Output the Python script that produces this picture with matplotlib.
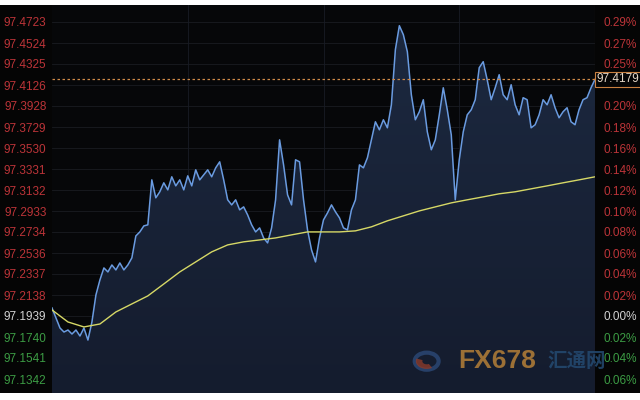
import numpy as np
import matplotlib.pyplot as plt
import matplotlib.transforms as mtransforms
from matplotlib.patches import Rectangle, Circle, Wedge

# price series (every sample of the intraday line)
price = [97.2015, 97.1920, 97.1825, 97.1787, 97.1806, 97.1768, 97.1806, 97.1749, 97.1825, 97.1711,
         97.1882, 97.2138, 97.2280, 97.2394, 97.2356, 97.2422, 97.2375, 97.2441, 97.2375, 97.2422,
         97.2489, 97.2697, 97.2735, 97.2792, 97.2802, 97.3228, 97.3058, 97.3115, 97.3200, 97.3133,
         97.3257, 97.3171, 97.3228, 97.3133, 97.3266, 97.3171, 97.3323, 97.3228, 97.3276, 97.3323,
         97.3257, 97.3342, 97.3399, 97.3228, 97.3039, 97.2991, 97.3039, 97.2944, 97.2972, 97.2896,
         97.2802, 97.2735, 97.2773, 97.2678, 97.2631, 97.2773, 97.3039, 97.3607, 97.3370, 97.3086,
         97.2991, 97.3418, 97.3399, 97.3039, 97.2754, 97.2565, 97.2451, 97.2678, 97.2849, 97.2915,
         97.2991, 97.2925, 97.2868, 97.2773, 97.2754, 97.2944, 97.3039, 97.3370, 97.3342, 97.3437,
         97.3607, 97.3778, 97.3702, 97.3797, 97.3721, 97.3939, 97.4461, 97.4688, 97.4603, 97.4442,
         97.4034, 97.3797, 97.3873, 97.3987, 97.3683, 97.3513, 97.3607, 97.3844, 97.4100, 97.3892,
         97.3655, 97.3039, 97.3418, 97.3683, 97.3844, 97.3892, 97.3987, 97.4290, 97.4347, 97.4176,
         97.3987, 97.4100, 97.4224, 97.4034, 97.3987, 97.4129, 97.3939, 97.3844, 97.4006, 97.3987,
         97.3721, 97.3750, 97.3844, 97.3987, 97.3939, 97.4034, 97.3911, 97.3816, 97.3873, 97.3911,
         97.3778, 97.3750, 97.3892, 97.3987, 97.4006, 97.4100, 97.4179]

# average line, one value every 4 samples
avg = [97.1996, 97.1882, 97.1835, 97.1863, 97.1977, 97.2053, 97.2129, 97.2242, 97.2356, 97.2451,
       97.2546, 97.2612, 97.2641, 97.2659, 97.2678, 97.2707, 97.2735, 97.2735, 97.2735, 97.2745,
       97.2783, 97.2840, 97.2887, 97.2934, 97.2972, 97.3010, 97.3039, 97.3067, 97.3096, 97.3115,
       97.3143, 97.3171, 97.3200, 97.3228, 97.3257]

last_price = 97.4179
base_price = 97.1939

left_labels = ['97.4723', '97.4524', '97.4325', '97.4126', '97.3928', '97.3729', '97.3530',
               '97.3331', '97.3132', '97.2933', '97.2734', '97.2536', '97.2337', '97.2138',
               '97.1939', '97.1740', '97.1541', '97.1342']
right_labels = ['0.29%', '0.27%', '0.25%', '', '0.20%', '0.18%', '0.16%', '0.14%', '0.12%',
                '0.10%', '0.08%', '0.06%', '0.04%', '0.02%', '0.00%', '0.02%', '0.04%', '0.06%']

RED = '#bc3438'
GREEN = '#3c9c44'
WHITE = '#d2d2d2'

tick_top, tick_bot = 97.4723, 97.1342
step = (tick_top - tick_bot) / 17
ticks = tick_top - step * np.arange(18)
px = step / 21  # price per pixel
ymin = tick_bot - 14 * px
ymax = tick_top + 17 * px

x = np.arange(len(price))
xa = np.arange(0, len(price), 4)

plt.rcParams['font.family'] = ['Liberation Sans', 'DejaVu Sans']

fig = plt.figure(figsize=(6.4, 4.0), dpi=100, facecolor='white')
fig.patches.append(Rectangle((0, 7 / 400), 1, 388 / 400, transform=fig.transFigure,
                             facecolor='#050505', edgecolor='none', zorder=-10))
ax = fig.add_axes([52 / 640, 7 / 400, 543 / 640, 388 / 400])
ax.set_facecolor('#060709')
ax.set_xlim(0, len(price) - 1)
ax.set_ylim(ymin, ymax)

# grid
for t in ticks:
    ax.axhline(t, color='#1a1c21', lw=0.6, zorder=1)
for f in [0.25, 0.5, 0.75]:
    ax.axvline((len(price) - 1) * f, color='#181c25', lw=0.6, zorder=1)

# gradient fill under the price line
poly = ax.fill_between(x, price, ymin, color='none', lw=0)
grad = np.linspace(0, 1, 256).reshape(-1, 1)
c_top = np.array([0.11, 0.16, 0.25])
c_bot = np.array([0.08, 0.11, 0.18])
img = c_top[None, None, :] * (1 - grad[:, :, None]) + c_bot[None, None, :] * grad[:, :, None]
im = ax.imshow(img, extent=[0, len(price) - 1, ymin, max(price)], aspect='auto',
               origin='upper', zorder=2)
im.set_clip_path(poly.get_paths()[0], transform=ax.transData)

ax.plot(x, price, color='#6a9be0', lw=1.1, zorder=4)
ax.plot(xa, avg, color='#d6d866', lw=1.0, zorder=5)
ax.axhline(last_price, color='#d08a48', lw=0.9, ls=(0, (2, 2)), zorder=6)

# watermark
ax.add_patch(Circle((0.69, 0.082), 0.022, transform=ax.transAxes, fill=False,
                    ec='#2c4a78', lw=3, zorder=3, alpha=0.8))
ax.add_patch(Wedge((0.69, 0.082), 0.02, 160, 300, width=0.012, transform=ax.transAxes,
                   fc='#8a3a2a', ec='none', zorder=3, alpha=0.8))
ax.text(0.749, 0.082, 'FX678', transform=ax.transAxes, fontsize=19, fontweight='bold',
        color='#9c7036', va='center', ha='left', zorder=3)
ax.text(0.912, 0.082, '汇通网', transform=ax.transAxes, fontsize=14, fontweight='bold',
        color='#244a72', va='center', ha='left', zorder=3, alpha=0.85,
        family=['Noto Sans CJK SC', 'DejaVu Sans'])

for s in ax.spines.values():
    s.set_visible(False)
ax.set_xticks([])

ax.set_yticks(ticks)
ax.set_yticklabels(left_labels)
ax.tick_params(axis='y', length=0, pad=4, labelsize=8.5)
for lab, v in zip(ax.get_yticklabels(), ticks):
    if abs(v - base_price) < step / 3:
        lab.set_color(WHITE)
    elif v > base_price:
        lab.set_color(RED)
    else:
        lab.set_color(GREEN)

ax2 = ax.twinx()
ax2.set_ylim(ymin, ymax)
ax2.set_yticks(ticks)
ax2.set_yticklabels(right_labels)
ax2.tick_params(axis='y', length=0, pad=6, labelsize=8.5)
for s in ax2.spines.values():
    s.set_visible(False)
for lab, v in zip(ax2.get_yticklabels(), ticks):
    if abs(v - base_price) < step / 3:
        lab.set_color(WHITE)
    elif v > base_price:
        lab.set_color(RED)
    else:
        lab.set_color(GREEN)

# right edge line and last price box
ax2.axvline(len(price) - 1, color='#3a1a1a', lw=0.8)
trans = mtransforms.blended_transform_factory(ax.transAxes, ax.transData)
ax2.text(1.003, last_price, '97.4179', transform=trans, fontsize=8.5, color='#e6d8c8',
         va='center', ha='left', zorder=10,
         bbox=dict(boxstyle='square,pad=0.15', fc='#050505', ec='#c98040', lw=0.8))

fig.savefig('out.png', dpi=100, facecolor=fig.get_facecolor())
